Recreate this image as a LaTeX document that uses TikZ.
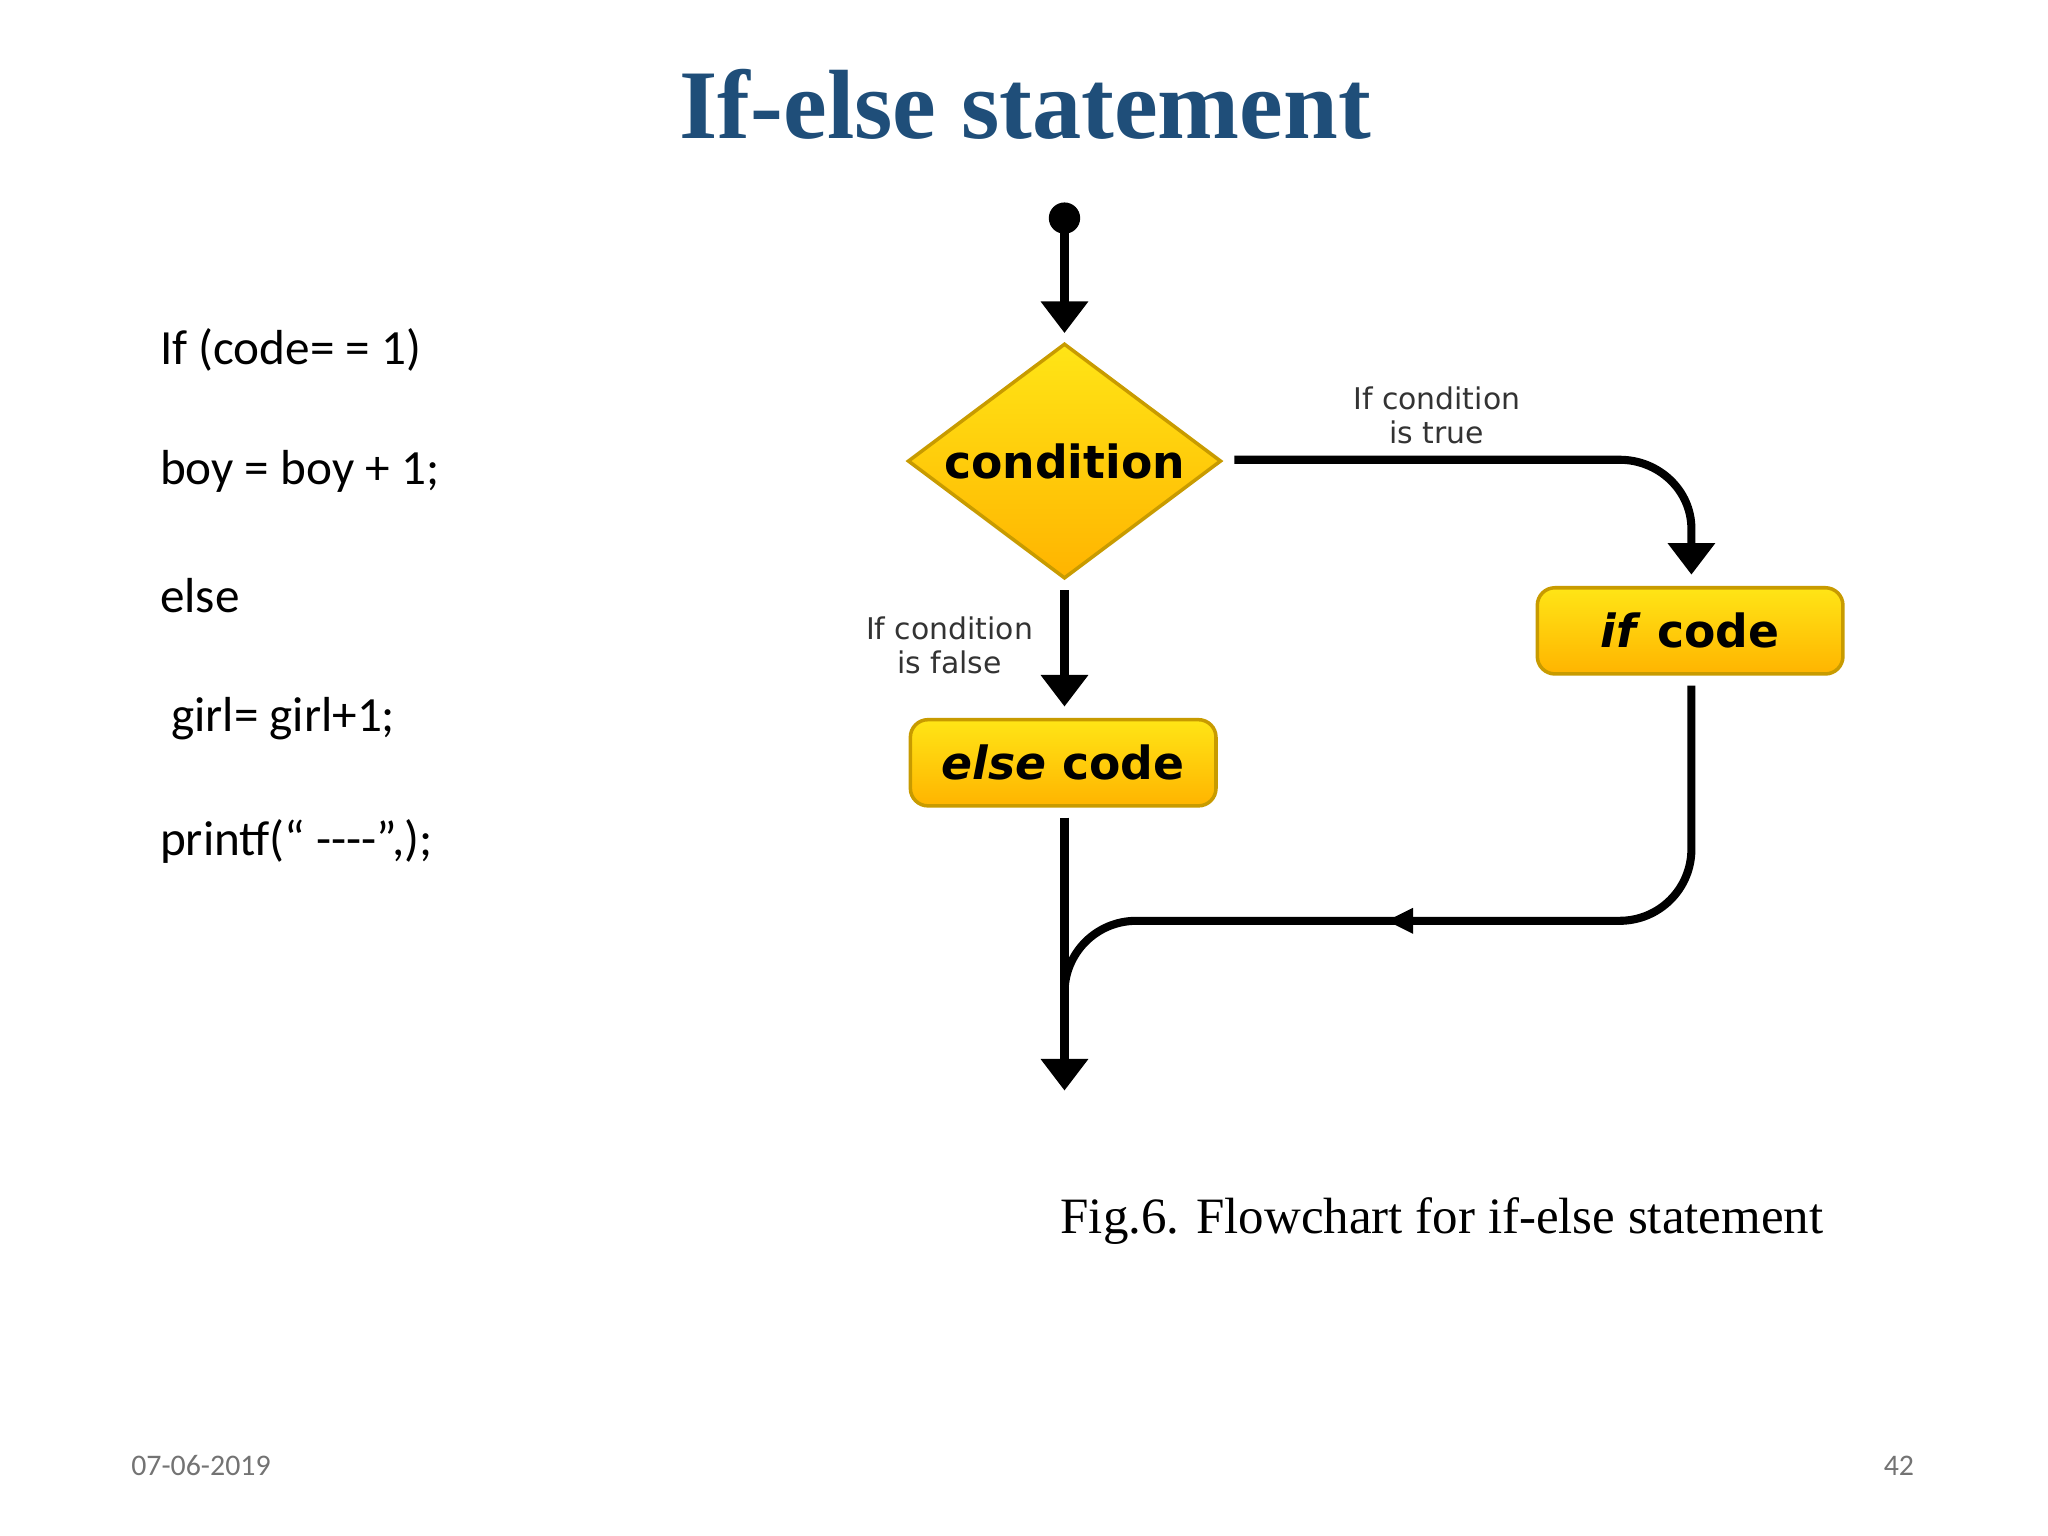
\documentclass[tikz,border=0pt]{standalone}
\usepackage{fontspec}
\setmainfont{Liberation Serif}
\newfontfamily\calfnt{Carlito}
\newfontfamily\fsans{DejaVu Sans}
\usetikzlibrary{shapes.geometric,arrows.meta}
\definecolor{titleblue}{HTML}{1F4E79}
\definecolor{ytop}{HTML}{FFE516}
\definecolor{ybot}{HTML}{FFB400}
\definecolor{yborder}{HTML}{C89B00}
\tikzset{
 ybox/.style={draw=yborder,line width=1pt,rounded corners=5pt,top color=ytop,bottom color=ybot,minimum width=234*0.013061cm,minimum height=66*0.013061cm,font=\fsans\bfseries\fontsize{13}{15}\selectfont},
 conn/.style={line width=2.3pt,black},
 tip/.style={-{Triangle[length=9pt,width=13pt]}},
 lbl/.style={font=\fsans\fontsize{8.5}{9.5}\selectfont,align=center,text=black!80},
 code/.style={anchor=west,font=\calfnt\fontsize{14}{16}\selectfont}
}
\begin{document}
\begin{tikzpicture}[x=0.013061cm,y=-0.013061cm]
\useasboundingbox (0,0) rectangle (1568,1176);
\node[font=\bfseries\fontsize{28}{32}\selectfont,text=titleblue] (title) at (785,80) {If-else statement};
\node[code] (c1) at (113,268) {If (code= = 1)};
\node[code] (c2) at (113,361) {boy = boy + 1;};
\node[code] (c3) at (113,456) {else};
\node[code] (c4) at (113,550) {\ girl= girl+1;};
\node[code] (c5) at (113,644) {printf(“ ----”,);};
\node[anchor=west,font=\calfnt\fontsize{8.5}{10}\selectfont,text=black!55] (date) at (91,1122) {07-06-2019};
\node[anchor=east,font=\calfnt\fontsize{8.5}{10}\selectfont,text=black!55] (pg) at (1475,1122) {42};
\node[font=\fontsize{14.5}{16}\selectfont] (cap) at (1104,935) {Fig.6. Flowchart for if-else statement};
% flowchart
\fill (815,167) circle (12);
\coordinate (s) at (815,167);
\node[diamond,draw=yborder,line width=1pt,top color=ytop,bottom color=ybot,minimum width=240*0.013061cm,minimum height=180*0.013061cm,inner sep=-4pt,aspect=1.33,font=\fsans\bfseries\fontsize{13}{15}\selectfont] (d) at (815,353) {condition};
\node[ybox] (ifc) at (1294,483) {\textit{if} code};
\node[ybox] (elc) at (814,584) {\textit{else} code};
\draw[conn,tip] (s) -- (815,255);
\draw[conn,tip] (945,352) -- (1240,352) to[out=0,in=90] (1295,405) -- (1295,440);
\draw[conn,tip] (815,452) -- (815,541);
\node[lbl] (lt) at (1100,318) {If condition\\is true};
\node[lbl] (lf) at (727,494) {If condition\\is false};
\draw[conn,tip] (815,626) -- (815,835);
\draw[conn] (1295,525) -- (1295,650) to[out=-90,in=0] (1240,705) -- (870,705) to[out=180,in=90] (815,760);
\fill (1062,705) -- (1082,695) -- (1082,715) -- cycle;
\end{tikzpicture}
\end{document}
